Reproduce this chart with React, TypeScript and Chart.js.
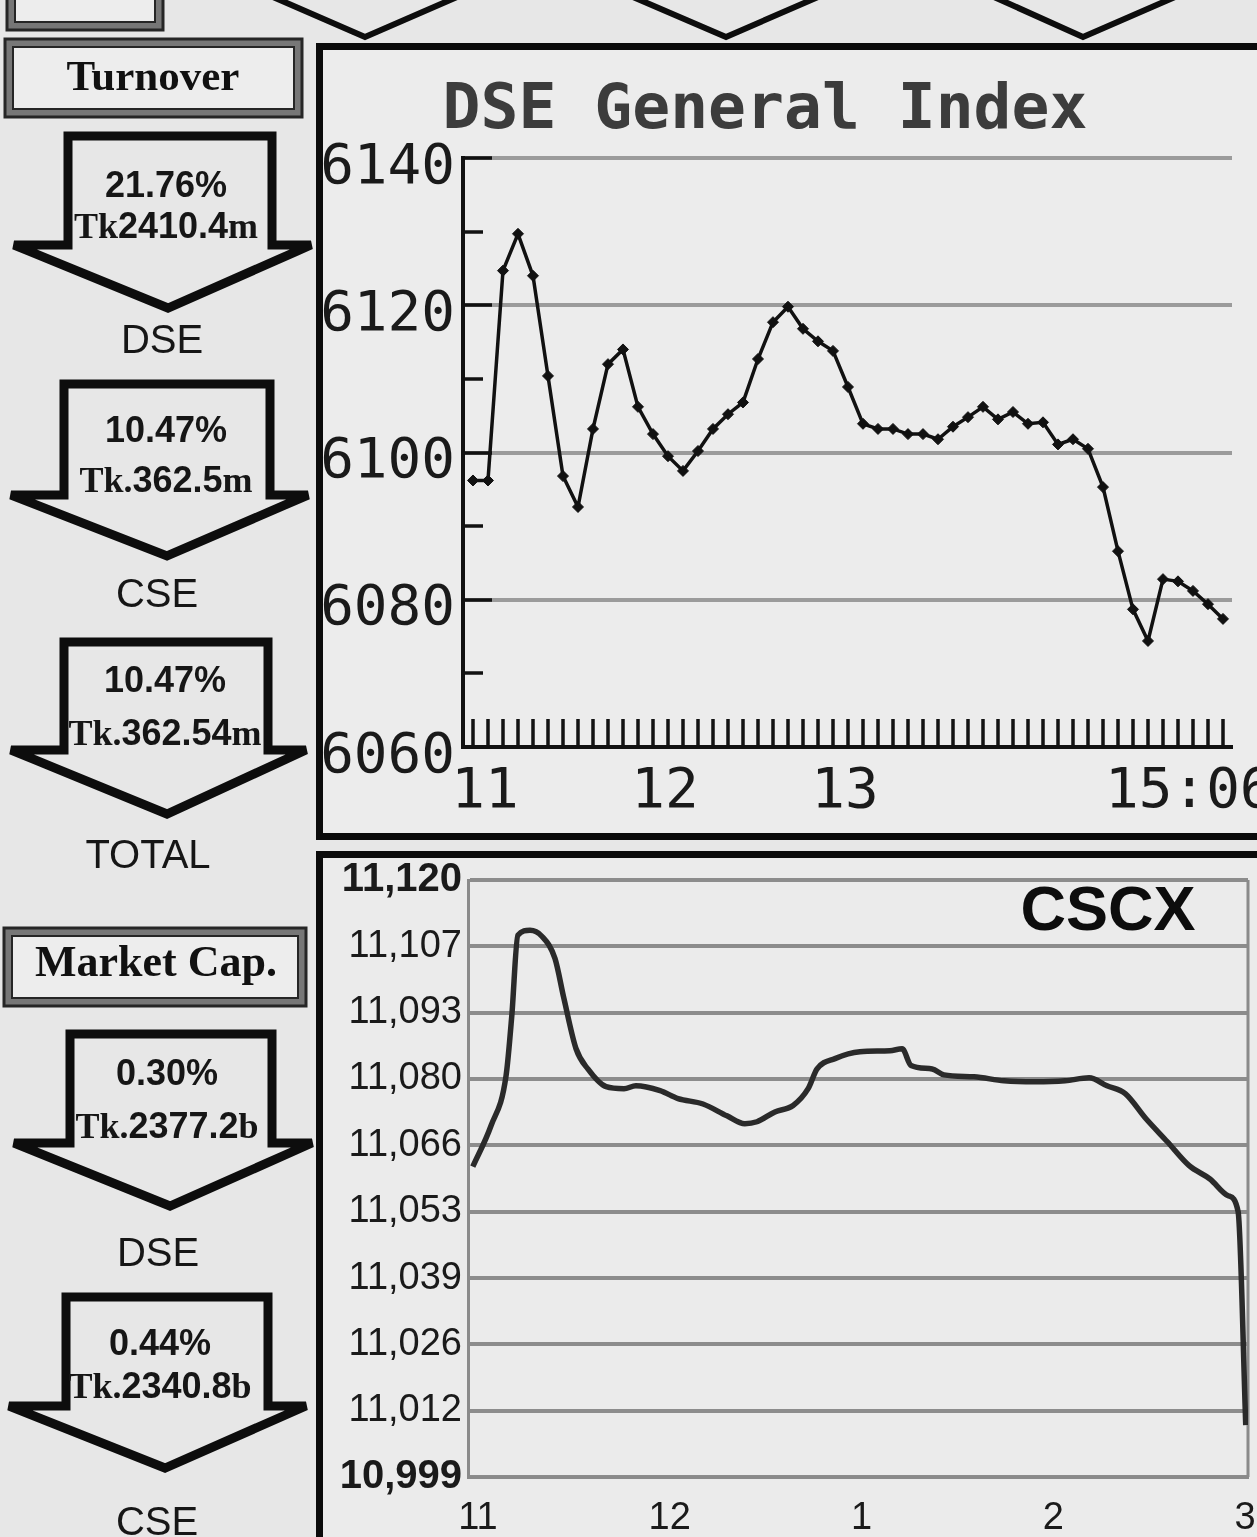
import React, { useEffect, useRef } from 'react';
import { Chart, registerables } from 'chart.js';

Chart.register(...registerables);

// ---------------- DSE General Index (5-minute points) ----------------
const DSE_TIMES = [
  '10:56', '11:01', '11:06', '11:11', '11:16', '11:21', '11:26', '11:31', '11:36', '11:41',
  '11:46', '11:51', '11:56', '12:01', '12:06', '12:11', '12:16', '12:21', '12:26', '12:31',
  '12:36', '12:41', '12:46', '12:51', '12:56', '13:01', '13:06', '13:11', '13:16', '13:21',
  '13:26', '13:31', '13:36', '13:41', '13:46', '13:51', '13:56', '14:01', '14:06', '14:11',
  '14:16', '14:21', '14:26', '14:31', '14:36', '14:41', '14:46', '14:51', '14:56', '15:01',
  '15:06',
];
const DSE_VALUES = [
  6096.2, 6096.2, 6124.7, 6129.7, 6124.0, 6110.4, 6096.8, 6092.6, 6103.2, 6112.0,
  6114.0, 6106.2, 6102.5, 6099.5, 6097.5, 6100.2, 6103.2, 6105.2, 6106.8, 6112.7,
  6117.7, 6119.8, 6116.8, 6115.1, 6113.8, 6108.9, 6103.9, 6103.2, 6103.2, 6102.5,
  6102.5, 6101.8, 6103.5, 6104.8, 6106.2, 6104.5, 6105.5, 6103.9, 6104.1, 6101.1,
  6101.8, 6100.5, 6095.3, 6086.6, 6078.7, 6074.4, 6082.8, 6082.5, 6081.2, 6079.4,
  6077.4,
];
const DSE_Y_MAJOR = [6060, 6080, 6100, 6120, 6140];
const DSE_Y_MINOR = [6070, 6090, 6110, 6130];
const DSE_X_TICK_TIMES = ['11:00', '12:00', '13:00', '15:06'];
const DSE_X_TICK_LABELS = ['11', '12', '13', '15:06'];
const DSE_TITLE = 'DSE General Index';

// ---------------- CSCX ----------------
const CSCX_MINUTES = [
  658.4, 664.1, 668.8, 670.6, 672.5, 676.3, 680.0, 684.1, 686.9, 690.7,
  694.4, 700.1, 705.7, 709.4, 717.0, 722.6, 730.4, 737.9, 743.5, 747.3,
  752.9, 758.6, 763.3, 766.1, 771.7, 779.5, 788.9, 792.7, 795.5, 802.1,
  805.8, 815.2, 824.6, 834.3, 843.7, 851.2, 856.8, 862.5, 869.0, 875.6,
  882.5, 889.0, 894.7, 897.8, 900.2,
];
const CSCX_VALUES = [
  11061.9, 11070.2, 11080.3, 11092.5, 11108.8, 11109.8, 11108.6, 11104.1, 11096.0, 11085.8,
  11081.7, 11078.1, 11077.7, 11078.3, 11077.3, 11075.7, 11074.6, 11072.2, 11070.6, 11071.0,
  11073.0, 11074.3, 11077.7, 11081.7, 11083.8, 11085.2, 11085.4, 11085.8, 11082.4, 11081.7,
  11080.5, 11080.1, 11079.3, 11079.1, 11079.3, 11079.9, 11078.3, 11076.7, 11071.6, 11067.0,
  11062.1, 11059.4, 11056.0, 11052.8, 11009.5,
];
const CSCX_Y_TICKS = [10999, 11012.44, 11025.89, 11039.33, 11052.78, 11066.22, 11079.67, 11093.11, 11106.56, 11120];
const CSCX_X_TICK_MINUTES = [660, 720, 780, 840, 900];
const CSCX_X_TICK_LABELS = ['11', '12', '1', '2', '3'];
const CSCX_TITLE = 'CSCX';

// ---------------- Side panels ----------------
const TURNOVER_TITLE = 'Turnover';
const TURNOVER_MARKETS = ['DSE', 'CSE', 'TOTAL'];
const TURNOVER_PCT = ['21.76%', '10.47%', '10.47%'];
const TURNOVER_AMT = ['Tk2410.4m', 'Tk.362.5m', 'Tk.362.54m'];
const MCAP_TITLE = 'Market Cap.';
const MCAP_MARKETS = ['DSE', 'CSE'];
const MCAP_PCT = ['0.30%', '0.44%'];
const MCAP_AMT = ['Tk.2377.2b', 'Tk.2340.8b'];

const toMin = (t: string) => {
  const [h, m] = t.split(':').map(Number);
  return h * 60 + m;
};

const SANS = 'Liberation Sans';
const SERIF = 'Liberation Serif';
const MONO = 'DejaVu Sans Mono';

const dseTickPlugin = {
  id: 'dseInnerTicks',
  beforeDatasetsDraw(chart: any) {
    const { ctx, chartArea, scales } = chart;
    const x = scales.x;
    const y = scales.y;
    ctx.save();
    ctx.strokeStyle = '#111';
    ctx.lineWidth = 3.5;
    ctx.beginPath();
    DSE_Y_MAJOR.forEach((v) => {
      const py = Math.round(y.getPixelForValue(v));
      ctx.moveTo(chartArea.left, py);
      ctx.lineTo(chartArea.left + 29, py);
    });
    DSE_Y_MINOR.forEach((v) => {
      const py = Math.round(y.getPixelForValue(v));
      ctx.moveTo(chartArea.left, py);
      ctx.lineTo(chartArea.left + 20, py);
    });
    DSE_TIMES.forEach((t) => {
      const px = Math.round(x.getPixelForValue(toMin(t)));
      ctx.moveTo(px, chartArea.bottom);
      ctx.lineTo(px, chartArea.bottom - 28);
    });
    ctx.stroke();
    ctx.restore();
  },
};

const frameRightPlugin = {
  id: 'frameRight',
  beforeDatasetsDraw(chart: any) {
    const { ctx, chartArea } = chart;
    ctx.save();
    ctx.strokeStyle = '#8a8a8a';
    ctx.lineWidth = 3;
    ctx.beginPath();
    ctx.moveTo(chartArea.right, chartArea.top);
    ctx.lineTo(chartArea.right, chartArea.bottom);
    ctx.stroke();
    ctx.restore();
  },
};

function DseChart() {
  const ref = useRef<HTMLCanvasElement | null>(null);
  useEffect(() => {
    if (!ref.current) return;
    const chart = new Chart(ref.current, {
      type: 'line',
      data: {
        datasets: [
          {
            data: DSE_TIMES.map((t, i) => ({ x: toMin(t), y: DSE_VALUES[i] })),
            borderColor: '#111',
            borderWidth: 3.5,
            pointStyle: 'rectRot',
            pointRadius: 5.5,
            pointBackgroundColor: '#111',
            pointBorderColor: '#111',
            pointBorderWidth: 1,
            tension: 0,
          },
        ],
      },
      options: {
        animation: false,
        responsive: false,
        events: [],
        layout: { padding: { top: 108, right: 25, left: 0, bottom: 0 } },
        plugins: { legend: { display: false }, tooltip: { enabled: false } },
        scales: {
          x: {
            type: 'linear',
            min: 652.67,
            max: 909,
            afterBuildTicks: (s: any) => {
              s.ticks = DSE_X_TICK_TIMES.map((t) => ({ value: toMin(t) }));
            },
            afterFit: (s: any) => {
              s.height = 86;
              s.paddingLeft = 0;
              s.paddingRight = 0;
            },
            grid: { display: false, drawTicks: false },
            border: { display: true, color: '#111', width: 4 },
            ticks: {
              autoSkip: false,
              maxRotation: 0,
              padding: 12,
              color: '#1a1a1a',
              font: { family: MONO, size: 56 },
              callback: (_v: any, i: number) =>
                i === DSE_X_TICK_LABELS.length - 1 ? DSE_X_TICK_LABELS[i] + '  ' : DSE_X_TICK_LABELS[i],
            },
          },
          y: {
            min: 6060,
            max: 6140,
            afterFit: (s: any) => {
              s.width = 140;
              s.paddingTop = 0;
              s.paddingBottom = 0;
            },
            grid: {
              drawTicks: false,
              lineWidth: 4,
              color: (c: any) => (c.tick && c.tick.value === 6060 ? 'rgba(0,0,0,0)' : '#9b9b9b'),
            },
            border: { display: true, color: '#111', width: 4 },
            ticks: {
              stepSize: 20,
              padding: 8,
              labelOffset: 10,
              color: '#1a1a1a',
              font: { family: MONO, size: 56 },
              callback: (v: any) => String(Math.round(Number(v))),
            },
          },
        },
      },
      plugins: [dseTickPlugin],
    } as any);
    return () => chart.destroy();
  }, []);
  return (
    <canvas
      ref={ref}
      width={934}
      height={783}
      style={{ position: 'absolute', left: 323, top: 50, width: 934, height: 783 }}
    />
  );
}

function CscxChart() {
  const ref = useRef<HTMLCanvasElement | null>(null);
  useEffect(() => {
    if (!ref.current) return;
    const chart = new Chart(ref.current, {
      type: 'line',
      data: {
        datasets: [
          {
            data: CSCX_MINUTES.map((m, i) => ({ x: m, y: CSCX_VALUES[i] })),
            borderColor: '#2a2a2a',
            borderWidth: 5.5,
            pointRadius: 0,
            cubicInterpolationMode: 'monotone',
          },
        ],
      },
      options: {
        animation: false,
        responsive: false,
        events: [],
        layout: { padding: { top: 22, right: 9, left: 0, bottom: 0 } },
        plugins: { legend: { display: false }, tooltip: { enabled: false } },
        scales: {
          x: {
            type: 'linear',
            min: 656.9,
            max: 900.9,
            afterBuildTicks: (s: any) => {
              s.ticks = CSCX_X_TICK_MINUTES.map((v) => ({ value: v }));
            },
            afterFit: (s: any) => {
              s.height = 60;
              s.paddingLeft = 0;
              s.paddingRight = 0;
            },
            grid: { display: false, drawTicks: false },
            border: { display: true, color: '#8a8a8a', width: 3 },
            ticks: {
              autoSkip: false,
              maxRotation: 0,
              padding: 19,
              color: '#1a1a1a',
              font: { family: SANS, size: 38 },
              callback: (_v: any, i: number) => CSCX_X_TICK_LABELS[i],
            },
          },
          y: {
            min: 10999,
            max: 11120,
            afterBuildTicks: (s: any) => {
              s.ticks = CSCX_Y_TICKS.map((v) => ({ value: v }));
            },
            afterFit: (s: any) => {
              s.width = 145;
              s.paddingTop = 0;
              s.paddingBottom = 0;
            },
            grid: { drawTicks: false, lineWidth: 4, color: '#8c8c8c' },
            border: { display: true, color: '#8a8a8a', width: 3 },
            ticks: {
              padding: 6,
              color: '#1a1a1a',
              font: (c: any) => {
                const edge = c.index === 0 || c.index === CSCX_Y_TICKS.length - 1;
                return { family: SANS, size: edge ? 40 : 38, weight: edge ? 'bold' : 'normal' };
              },
              callback: (v: any) => Math.round(Number(v)).toLocaleString('en-US'),
            },
          },
        },
      },
      plugins: [frameRightPlugin],
    } as any);
    return () => chart.destroy();
  }, []);
  return (
    <canvas
      ref={ref}
      width={934}
      height={679}
      style={{ position: 'absolute', left: 323, top: 858, width: 934, height: 679 }}
    />
  );
}

type ArrowGeo = { sl: number; sr: number; top: number; hy: number; hl: number; hr: number; tx: number; ty: number };

const arrowPts = (a: ArrowGeo) =>
  `${a.sl},${a.top} ${a.sr},${a.top} ${a.sr},${a.hy} ${a.hr},${a.hy} ${a.tx},${a.ty} ${a.hl},${a.hy} ${a.sl},${a.hy}`;

function AmountText({ x, y, text }: { x: number; y: number; text: string }) {
  const m = text.match(/^(Tk\.?)(.*?)([a-z])$/);
  const pre = m ? m[1] : '';
  const num = m ? m[2] : text;
  const unit = m ? m[3] : '';
  return (
    <text x={x} y={y} textAnchor="middle" fontSize={36} fontWeight="bold" fill="#161616">
      <tspan fontFamily={SERIF}>{pre}</tspan>
      <tspan fontFamily={SANS}>{num}</tspan>
      <tspan fontFamily={SERIF}>{unit}</tspan>
    </text>
  );
}

function FrameBox({ x, y, w, h, label, lx, ly, size }: any) {
  return (
    <g>
      <rect x={x} y={y} width={w} height={h} fill="#777" stroke="#262626" strokeWidth={3} />
      <rect x={x + 8} y={y + 8} width={w - 16} height={h - 16} fill="#ededed" stroke="#262626" strokeWidth={2} />
      {label ? (
        <text x={lx} y={ly} textAnchor="middle" fontFamily={SERIF} fontWeight="bold" fontSize={size} fill="#111">
          {label}
        </text>
      ) : null}
    </g>
  );
}

export default function App() {
  const turnoverArrows: ArrowGeo[] = [
    { sl: 68, sr: 272, top: 136, hy: 245, hl: 14, hr: 311, tx: 168, ty: 308 },
    { sl: 64, sr: 270, top: 384, hy: 495, hl: 11, hr: 308, tx: 167, ty: 556 },
    { sl: 64, sr: 268, top: 642, hy: 750, hl: 11, hr: 306, tx: 167, ty: 814 },
  ];
  const turnoverText = [
    { cx: 166, p: 197, a: 238, lx: 162, l: 353 },
    { cx: 166, p: 442, a: 492, lx: 157, l: 607 },
    { cx: 165, p: 692, a: 745, lx: 148, l: 868 },
  ];
  const mcapArrows: ArrowGeo[] = [
    { sl: 70, sr: 272, top: 1034, hy: 1143, hl: 14, hr: 312, tx: 170, ty: 1206 },
    { sl: 66, sr: 268, top: 1297, hy: 1406, hl: 9, hr: 306, tx: 165, ty: 1468 },
  ];
  const mcapText = [
    { cx: 167, p: 1085, a: 1138, lx: 158, l: 1266 },
    { cx: 160, p: 1355, a: 1398, lx: 157, l: 1535 },
  ];

  return (
    <div
      style={{
        position: 'absolute',
        left: 0,
        top: 0,
        width: 1257,
        height: 1537,
        overflow: 'hidden',
        background: '#e7e7e7',
      }}
    >
      <div
        style={{
          position: 'absolute',
          left: 316,
          top: 43,
          width: 1100,
          height: 797,
          border: '7px solid #0b0b0b',
          boxSizing: 'border-box',
          background: '#ececec',
        }}
      />
      <div
        style={{
          position: 'absolute',
          left: 316,
          top: 851,
          width: 1100,
          height: 800,
          border: '7px solid #0b0b0b',
          boxSizing: 'border-box',
          background: '#ebebeb',
        }}
      />
      <DseChart />
      <CscxChart />
      <svg
        width={1257}
        height={1537}
        style={{ position: 'absolute', left: 0, top: 0, pointerEvents: 'none' }}
      >
        {/* bottoms of arrows from the row above */}
        <polyline points="273,-3 365,37 457,-3" fill="none" stroke="#0d0d0d" strokeWidth={6} />
        <polyline points="633,-3 726,37 818,-3" fill="none" stroke="#0d0d0d" strokeWidth={6} />
        <polyline points="994,-3 1083,37 1175,-3" fill="none" stroke="#0d0d0d" strokeWidth={6} />
        <FrameBox x={7} y={-20} w={156} h={50} />

        <FrameBox x={5} y={39} w={297} h={78} label={TURNOVER_TITLE} lx={153} ly={90} size={43} />
        {turnoverArrows.map((a, i) => (
          <polygon key={'ta' + i} points={arrowPts(a)} fill="none" stroke="#0d0d0d" strokeWidth={9} strokeLinejoin="miter" />
        ))}
        {turnoverText.map((t, i) => (
          <g key={'tt' + i}>
            <text x={t.cx} y={t.p} textAnchor="middle" fontFamily={SANS} fontWeight="bold" fontSize={36} fill="#161616">
              {TURNOVER_PCT[i]}
            </text>
            <AmountText x={t.cx} y={t.a} text={TURNOVER_AMT[i]} />
            <text x={t.lx} y={t.l} textAnchor="middle" fontFamily={SANS} fontSize={40} fill="#161616">
              {TURNOVER_MARKETS[i]}
            </text>
          </g>
        ))}

        <FrameBox x={4} y={928} w={302} h={78} label={MCAP_TITLE} lx={156} ly={976} size={44} />
        {mcapArrows.map((a, i) => (
          <polygon key={'ma' + i} points={arrowPts(a)} fill="none" stroke="#0d0d0d" strokeWidth={9} strokeLinejoin="miter" />
        ))}
        {mcapText.map((t, i) => (
          <g key={'mt' + i}>
            <text x={t.cx} y={t.p} textAnchor="middle" fontFamily={SANS} fontWeight="bold" fontSize={36} fill="#161616">
              {MCAP_PCT[i]}
            </text>
            <AmountText x={t.cx} y={t.a} text={MCAP_AMT[i]} />
            <text x={t.lx} y={t.l} textAnchor="middle" fontFamily={SANS} fontSize={40} fill="#161616">
              {MCAP_MARKETS[i]}
            </text>
          </g>
        ))}

        <text x={765} y={128} textAnchor="middle" fontFamily={MONO} fontWeight="bold" fontSize={63} fill="#3c3c3c">
          {DSE_TITLE}
        </text>
        <text x={1108} y={930} textAnchor="middle" fontFamily={SANS} fontWeight="bold" fontSize={63} fill="#0d0d0d">
          {CSCX_TITLE}
        </text>
      </svg>
    </div>
  );
}
